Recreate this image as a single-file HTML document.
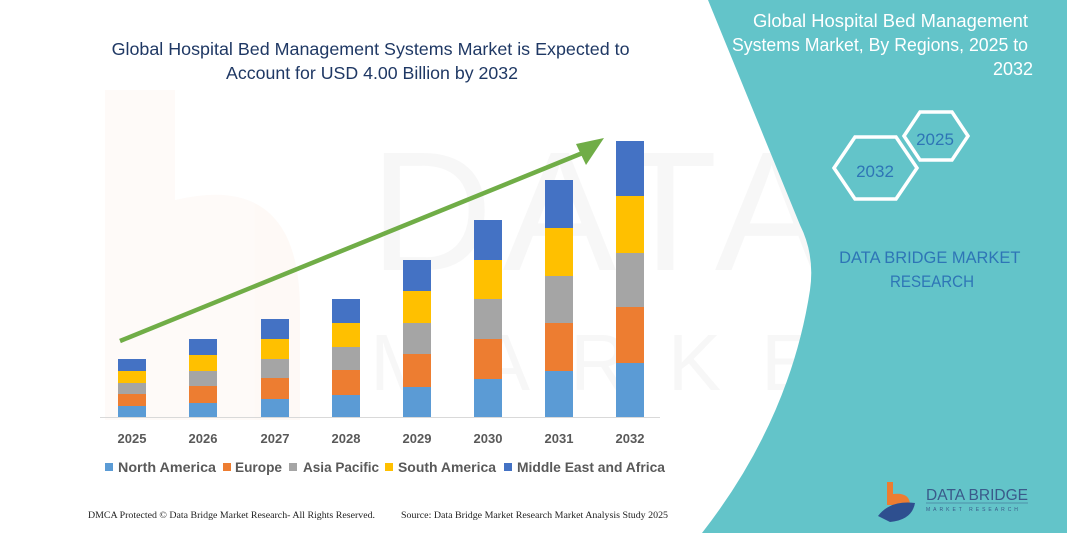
<!DOCTYPE html>
<html><head><meta charset="utf-8"><style>
html,body{margin:0;padding:0;background:#fff;}
svg{display:block;}
</style></head><body>
<svg width="1067" height="533" viewBox="0 0 1067 533" xmlns="http://www.w3.org/2000/svg" font-family="'Liberation Sans', sans-serif">
<rect width="1067" height="533" fill="#fff"/>
<g opacity="0.035">
<path d="M105 90 L175 90 L175 200 Q300 170 300 310 L300 420 L105 420 Z" fill="#ed7d31"/>
<text x="370" y="270" font-size="170" fill="#333" letter-spacing="10">DATA BRIDGE</text>
<text x="370" y="390" font-size="80" fill="#333" letter-spacing="40">MARKET RESEARCH</text>
</g>
<path d="M708 0 L1067 0 L1067 533 L702 533 Q790 420 810 290 Q815 255 800 225 Z" fill="#63c4c9"/>
<text fill="#fff" font-size="18" text-anchor="end">
<tspan x="1033" y="27" textLength="275" lengthAdjust="spacingAndGlyphs">Global Hospital Bed Management</tspan>
<tspan x="1033" y="51" textLength="296" lengthAdjust="spacingAndGlyphs">Systems Market, By Regions, 2025 to</tspan>
<tspan x="1033" y="75">2032</tspan>
</text>
<polygon points="834,168 855,137 896,137 917,168 896,199 855,199" fill="none" stroke="#fff" stroke-width="3.5"/>
<polygon points="904,136 920,112 952,112 968,136 952,160 920,160" fill="none" stroke="#fff" stroke-width="3.5"/>
<text x="875" y="177" font-size="17" fill="#2e75b6" text-anchor="middle">2032</text>
<text x="935" y="145" font-size="17" fill="#2e75b6" text-anchor="middle">2025</text>
<text fill="#2e75b6" font-size="17" text-anchor="middle">
<tspan x="932" y="263" textLength="181" lengthAdjust="spacingAndGlyphs">DATA BRIDGE MARKET</tspan>
<tspan x="932" y="287" textLength="84" lengthAdjust="spacingAndGlyphs">RESEARCH</tspan>
</text>
<path d="M887 482 L893 482 L893 494 Q910 492 910 505 L887 505 Z" fill="#ed7d31"/>
<path d="M878 516 Q890 500 915 503 Q912 520 890 522 Z" fill="#2e4f8f"/>
<text x="926" y="500" font-size="16" fill="#3a5a8a" textLength="102" lengthAdjust="spacingAndGlyphs">DATA BRIDGE</text>
<line x1="926" y1="503" x2="1028" y2="503" stroke="#3a5a8a" stroke-width="0.6"/>
<text x="926" y="511" font-size="5" fill="#3a5a8a" letter-spacing="3">MARKET RESEARCH</text>
<text fill="#1f3864" font-size="17.5" text-anchor="middle">
<tspan x="373" y="55" textLength="518" lengthAdjust="spacingAndGlyphs">Global Hospital Bed Management Systems Market is Expected to</tspan>
<tspan x="372" y="79" textLength="292" lengthAdjust="spacingAndGlyphs">Account for USD 4.00 Billion by 2032</tspan>
</text>
<line x1="100" y1="417.5" x2="660" y2="417.5" stroke="#d9d9d9" stroke-width="1"/>
<g>
<rect x="118" y="406" width="28" height="11" fill="#5b9bd5"/><rect x="118" y="394" width="28" height="12" fill="#ed7d31"/><rect x="118" y="383" width="28" height="11" fill="#a5a5a5"/><rect x="118" y="371" width="28" height="12" fill="#ffc000"/><rect x="118" y="359" width="28" height="12" fill="#4472c4"/>
<rect x="189" y="403" width="28" height="14" fill="#5b9bd5"/><rect x="189" y="386" width="28" height="17" fill="#ed7d31"/><rect x="189" y="371" width="28" height="15" fill="#a5a5a5"/><rect x="189" y="355" width="28" height="16" fill="#ffc000"/><rect x="189" y="339" width="28" height="16" fill="#4472c4"/>
<rect x="261" y="399" width="28" height="18" fill="#5b9bd5"/><rect x="261" y="378" width="28" height="21" fill="#ed7d31"/><rect x="261" y="359" width="28" height="19" fill="#a5a5a5"/><rect x="261" y="339" width="28" height="20" fill="#ffc000"/><rect x="261" y="319" width="28" height="20" fill="#4472c4"/>
<rect x="332" y="395" width="28" height="22" fill="#5b9bd5"/><rect x="332" y="370" width="28" height="25" fill="#ed7d31"/><rect x="332" y="347" width="28" height="23" fill="#a5a5a5"/><rect x="332" y="323" width="28" height="24" fill="#ffc000"/><rect x="332" y="299" width="28" height="24" fill="#4472c4"/>
<rect x="403" y="387" width="28" height="30" fill="#5b9bd5"/><rect x="403" y="354" width="28" height="33" fill="#ed7d31"/><rect x="403" y="323" width="28" height="31" fill="#a5a5a5"/><rect x="403" y="291" width="28" height="32" fill="#ffc000"/><rect x="403" y="260" width="28" height="31" fill="#4472c4"/>
<rect x="474" y="379" width="28" height="38" fill="#5b9bd5"/><rect x="474" y="339" width="28" height="40" fill="#ed7d31"/><rect x="474" y="299" width="28" height="40" fill="#a5a5a5"/><rect x="474" y="260" width="28" height="39" fill="#ffc000"/><rect x="474" y="220" width="28" height="40" fill="#4472c4"/>
<rect x="545" y="371" width="28" height="46" fill="#5b9bd5"/><rect x="545" y="323" width="28" height="48" fill="#ed7d31"/><rect x="545" y="276" width="28" height="47" fill="#a5a5a5"/><rect x="545" y="228" width="28" height="48" fill="#ffc000"/><rect x="545" y="180" width="28" height="48" fill="#4472c4"/>
<rect x="616" y="363" width="28" height="54" fill="#5b9bd5"/><rect x="616" y="307" width="28" height="56" fill="#ed7d31"/><rect x="616" y="253" width="28" height="54" fill="#a5a5a5"/><rect x="616" y="196" width="28" height="57" fill="#ffc000"/><rect x="616" y="141" width="28" height="55" fill="#4472c4"/>
</g>
<line x1="120" y1="341" x2="585" y2="152" stroke="#70ad47" stroke-width="4.5"/>
<polygon points="604,138 576,144 586,165" fill="#70ad47"/>
<g font-size="13" font-weight="bold" fill="#595959" text-anchor="middle">
<text x="132" y="443">2025</text><text x="203" y="443">2026</text><text x="275" y="443">2027</text><text x="346" y="443">2028</text><text x="417" y="443">2029</text><text x="488" y="443">2030</text><text x="559" y="443">2031</text><text x="630" y="443">2032</text>
</g>
<g font-size="13.5" font-weight="bold" fill="#595959">
<rect x="105" y="463" width="8" height="8" fill="#5b9bd5"/><text x="118" y="472" textLength="98" lengthAdjust="spacingAndGlyphs">North America</text>
<rect x="223" y="463" width="8" height="8" fill="#ed7d31"/><text x="235" y="472" textLength="47" lengthAdjust="spacingAndGlyphs">Europe</text>
<rect x="289" y="463" width="8" height="8" fill="#a5a5a5"/><text x="303" y="472" textLength="76" lengthAdjust="spacingAndGlyphs">Asia Pacific</text>
<rect x="385" y="463" width="8" height="8" fill="#ffc000"/><text x="398" y="472" textLength="98" lengthAdjust="spacingAndGlyphs">South America</text>
<rect x="504" y="463" width="8" height="8" fill="#4472c4"/><text x="517" y="472" textLength="148" lengthAdjust="spacingAndGlyphs">Middle East and Africa</text>
</g>
<g font-family="'Liberation Serif', serif" font-size="9.5" fill="#222">
<text x="88" y="518" textLength="287" lengthAdjust="spacingAndGlyphs">DMCA Protected © Data Bridge Market Research-  All Rights Reserved.</text>
<text x="401" y="518" textLength="267" lengthAdjust="spacingAndGlyphs">Source: Data Bridge Market Research  Market Analysis Study 2025</text>
</g>
</svg>
</body></html>
